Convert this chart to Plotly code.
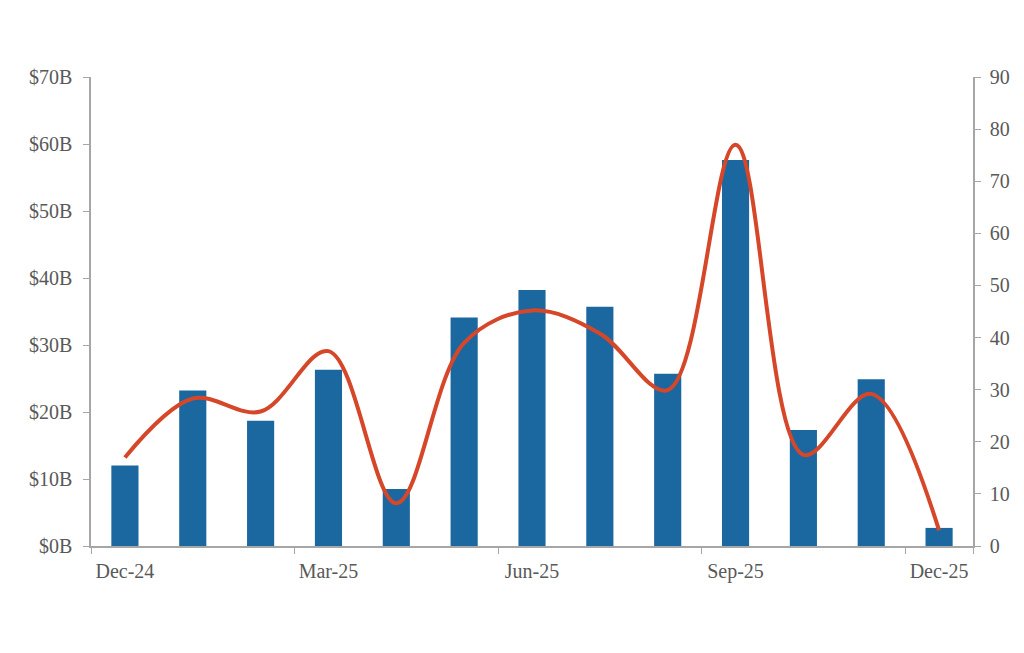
import plotly.graph_objects as go

months = ["Dec-24", "Jan-25", "Feb-25", "Mar-25", "Apr-25", "May-25", "Jun-25",
          "Jul-25", "Aug-25", "Sep-25", "Oct-25", "Nov-25", "Dec-25"]
value_b = [12.0, 23.2, 18.7, 26.3, 8.5, 34.1, 38.2, 35.7, 25.7, 57.6, 17.3, 24.9, 2.7]
count = [17, 28.3, 25.8, 37.4, 8.2, 39, 45.2, 40.8, 29.9, 77, 17.5, 29.2, 3]
x_ticks = ["Dec-24", "Mar-25", "Jun-25", "Sep-25", "Dec-25"]
left_ticks = [0, 10, 20, 30, 40, 50, 60, 70]
left_labels = ["$" + str(v) + "B" for v in left_ticks]
right_ticks = [0, 10, 20, 30, 40, 50, 60, 70, 80, 90]

font_family = "Liberation Serif"
grey = "#595959"
axis_col = "#A6A6A6"

fig = go.Figure()
fig.add_trace(go.Bar(x=months, y=value_b, marker=dict(color="#1B67A0", line=dict(width=0)),
                     yaxis="y", name="Value"))
fig.add_trace(go.Scatter(x=months, y=count, mode="lines", yaxis="y2",
                         line=dict(color="#D6472A", width=4, shape="spline", smoothing=1.0),
                         name="Count"))

fig.update_layout(
    width=1024, height=653,
    margin=dict(l=83, r=59, t=69, b=115),
    paper_bgcolor="white", plot_bgcolor="white",
    showlegend=False,
    bargap=0.6,
    font=dict(family=font_family, color=grey, size=19),
    xaxis=dict(type="category", categoryorder="array", categoryarray=months,
               tickvals=x_ticks, ticktext=x_ticks, tickson="boundaries",
               tickangle=0, automargin=False, ticklabelstandoff=6,
               ticks="outside", ticklen=6, tickcolor=axis_col,
               showline=True, linecolor=axis_col, linewidth=1.5,
               showgrid=False, tickfont=dict(size=20, color=grey)),
    yaxis=dict(range=[0, 70], tickvals=left_ticks, ticktext=left_labels,
               automargin=False, ticklabelstandoff=7,
               ticks="outside", ticklen=6, tickcolor=axis_col,
               showline=True, linecolor=axis_col, linewidth=1.5,
               showgrid=False, zeroline=False, tickfont=dict(size=20, color=grey)),
    yaxis2=dict(range=[0, 90], tickvals=right_ticks, overlaying="y", side="right",
                automargin=False, ticklabelstandoff=5,
                ticks="outside", ticklen=6, tickcolor=axis_col,
                showline=True, linecolor=axis_col, linewidth=1.5,
                showgrid=False, zeroline=False, tickfont=dict(size=20, color=grey)),
)

fig.write_html("out.html")
